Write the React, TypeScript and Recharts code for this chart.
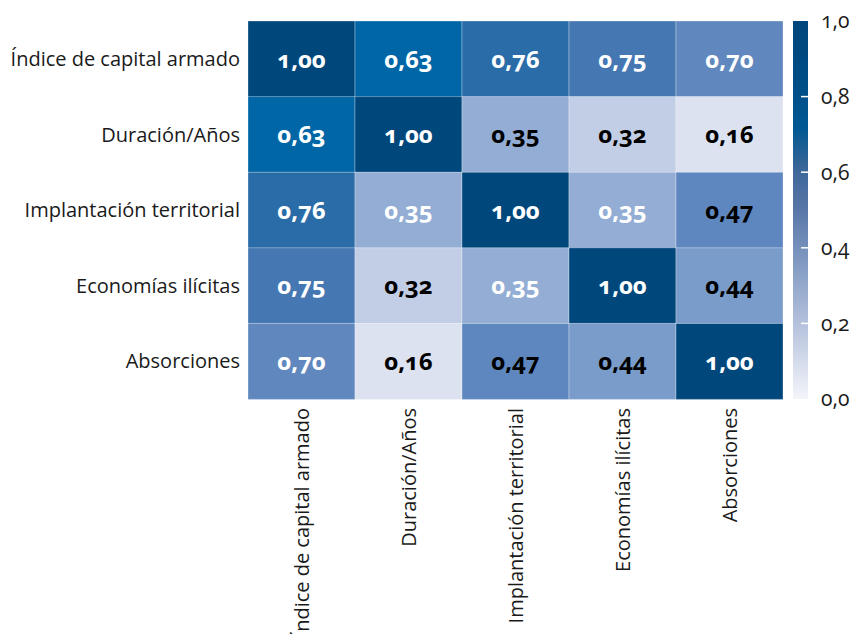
import React from 'react';
import { BarChart, Bar, XAxis, YAxis, Cell, LabelList } from 'recharts';

const variables = [
  'Índice de capital armado',
  'Duración/Años',
  'Implantación territorial',
  'Economías ilícitas',
  'Absorciones',
];

const corrIndice = [1.0, 0.63, 0.76, 0.75, 0.7];
const corrDuracion = [0.63, 1.0, 0.35, 0.32, 0.16];
const corrImplantacion = [0.76, 0.35, 1.0, 0.35, 0.47];
const corrEconomias = [0.75, 0.32, 0.35, 1.0, 0.44];
const corrAbsorciones = [0.7, 0.16, 0.47, 0.44, 1.0];

const matrix = [corrIndice, corrDuracion, corrImplantacion, corrEconomias, corrAbsorciones];

const colorbarTicks = [0, 0.2, 0.4, 0.6, 0.8, 1.0];

// ---- styles ----
const FONT = "'Open Sans', 'Noto Sans', sans-serif";

const paletteStops: [number, string][] = [
  [0.0, '#f5f6fa'],
  [0.16, '#dce2f0'],
  [0.32, '#c2cee5'],
  [0.35, '#93add4'],
  [0.44, '#7a9cca'],
  [0.47, '#5e87bf'],
  [0.63, '#0066a6'],
  [0.7, '#6088be'],
  [0.75, '#4578b3'],
  [0.76, '#2a6ca8'],
  [1.0, '#00477c'],
];

const darkLabelCells = new Set(['1-2', '1-3', '1-4', '3-1', '4-1', '4-2', '4-3', '2-4', '3-4']);

const hexToRgb = (h: string) => [
  parseInt(h.slice(1, 3), 16),
  parseInt(h.slice(3, 5), 16),
  parseInt(h.slice(5, 7), 16),
];

const colorFor = (v: number) => {
  for (let k = 0; k < paletteStops.length - 1; k++) {
    const [a, ca] = paletteStops[k];
    const [b, cb] = paletteStops[k + 1];
    if (v >= a && v <= b) {
      const t = b === a ? 0 : (v - a) / (b - a);
      const A = hexToRgb(ca);
      const B = hexToRgb(cb);
      const c = A.map((x, i) => Math.round(x + (B[i] - x) * t));
      return `rgb(${c[0]},${c[1]},${c[2]})`;
    }
  }
  return paletteStops[paletteStops.length - 1][1];
};

const fmt = (v: number, d: number) => v.toFixed(d).replace('.', ',');

const data = variables.map((name, i) => {
  const row: any = { name };
  matrix[i].forEach((v, j) => {
    row[`c${j}`] = 1;
    row[`v${j}`] = v;
  });
  return row;
});

const colIdx = [0, 1, 2, 3, 4];

const makeLabel = (j: number) => (props: any) => {
  const { x, y, width, height, value, index } = props;
  const cx = Number(x) + Number(width) / 2;
  const cy = Number(y) + Number(height) / 2;
  const dark = darkLabelCells.has(`${index}-${j}`);
  return (
    <text
      x={cx}
      y={cy}
      dy="0.36em"
      textAnchor="middle"
      fontFamily={FONT}
      fontWeight={700}
      fontSize={24}
      style={{ fontVariantNumeric: 'oldstyle-nums' }}
      fill={dark ? '#000000' : '#ffffff'}
    >
      {fmt(Number(value), 2)}
    </text>
  );
};

const XTick = (props: any) => {
  const { x, y, payload } = props;
  const label = variables[Math.floor(payload.value)];
  return (
    <text
      x={x}
      y={y}
      transform={`rotate(-90, ${x}, ${y})`}
      textAnchor="end"
      dy="0.355em"
      fontFamily={FONT}
      fontSize={20}
      fill="#1a1a1a"
    >
      {label}
    </text>
  );
};

const YTick = (props: any) => {
  const { x, y, payload } = props;
  return (
    <text x={x} y={y} dy="0.355em" textAnchor="end" fontFamily={FONT} fontSize={20} fill="#1a1a1a">
      {payload.value}
    </text>
  );
};

const CbTick = (props: any) => {
  const { x, y, payload } = props;
  const v = payload.value;
  const showLine = v > 0.01 && v < 0.99;
  return (
    <g>
      {showLine && <line x1={x - 20} x2={x - 13} y1={y} y2={y} stroke="#ffffff" strokeWidth={1.5} />}
      <text
        x={x}
        y={y}
        dy="0.355em"
        textAnchor="start"
        fontFamily={FONT}
        fontSize={21}
        fill="#1a1a1a"
        style={{ fontVariantNumeric: 'oldstyle-nums' }}
      >
        {fmt(v, 1)}
      </text>
    </g>
  );
};

const colorbarData = [{ name: 'scale', v: 1 }];

const H = 626;
const XAXIS_H = 235;

export default function App() {
  return (
    <div style={{ position: 'relative', width: 845, height: H, background: '#ffffff', overflow: 'hidden' }}>
      <div style={{ position: 'absolute', left: 0, top: 0, width: 800 }}>
        <BarChart
          width={800}
          height={H}
          data={data}
          layout="vertical"
          margin={{ top: 13, right: 25, bottom: 0, left: 0 }}
          barCategoryGap={0}
          barGap={0}
        >
          <XAxis
            type="number"
            domain={[0, 5]}
            ticks={[0.5, 1.5, 2.5, 3.5, 4.5]}
            height={XAXIS_H}
            axisLine={false}
            tickLine={false}
            tickSize={0}
            tickMargin={9}
            tick={<XTick />}
            interval={0}
            allowDataOverflow
          />
          <YAxis
            type="category"
            dataKey="name"
            width={240}
            axisLine={false}
            tickLine={false}
            tickSize={0}
            tickMargin={8}
            tick={<YTick />}
            interval={0}
          />
          {colIdx.map((j) => (
            <Bar
              key={j}
              dataKey={`c${j}`}
              stackId="heat"
              isAnimationActive={false}
              stroke="#ffffff"
              strokeOpacity={0.3}
              strokeWidth={1}
            >
              {data.map((_, i) => (
                <Cell key={i} fill={colorFor(matrix[i][j])} />
              ))}
              <LabelList dataKey={`v${j}`} content={makeLabel(j)} />
            </Bar>
          ))}
        </BarChart>
      </div>
      <div style={{ position: 'absolute', left: 785, top: 0, width: 60 }}>
        <BarChart
          width={60}
          height={H}
          data={colorbarData}
          margin={{ top: 13, right: 0, bottom: XAXIS_H, left: 0 }}
          barCategoryGap={0}
        >
          <defs>
            <linearGradient id="cbGrad" x1="0" y1="0" x2="0" y2="1">
              <stop offset="0%" stopColor="#00467c" />
              <stop offset="10%" stopColor="#004a81" />
              <stop offset="20%" stopColor="#00508a" />
              <stop offset="28%" stopColor="#005892" />
              <stop offset="34%" stopColor="#1f5f95" />
              <stop offset="40%" stopColor="#3f6899" />
              <stop offset="50%" stopColor="#5877a8" />
              <stop offset="60%" stopColor="#7590bb" />
              <stop offset="70%" stopColor="#94a9cc" />
              <stop offset="80%" stopColor="#b4c1dc" />
              <stop offset="90%" stopColor="#d4dbeb" />
              <stop offset="100%" stopColor="#f4f5fa" />
            </linearGradient>
          </defs>
          <XAxis dataKey="name" hide />
          <YAxis
            orientation="right"
            type="number"
            domain={[0, 1]}
            ticks={colorbarTicks}
            width={45}
            axisLine={false}
            tickLine={false}
            tickSize={0}
            tickMargin={13}
            tick={<CbTick />}
            interval={0}
          />
          <Bar dataKey="v" fill="url(#cbGrad)" isAnimationActive={false} />
        </BarChart>
      </div>
    </div>
  );
}
